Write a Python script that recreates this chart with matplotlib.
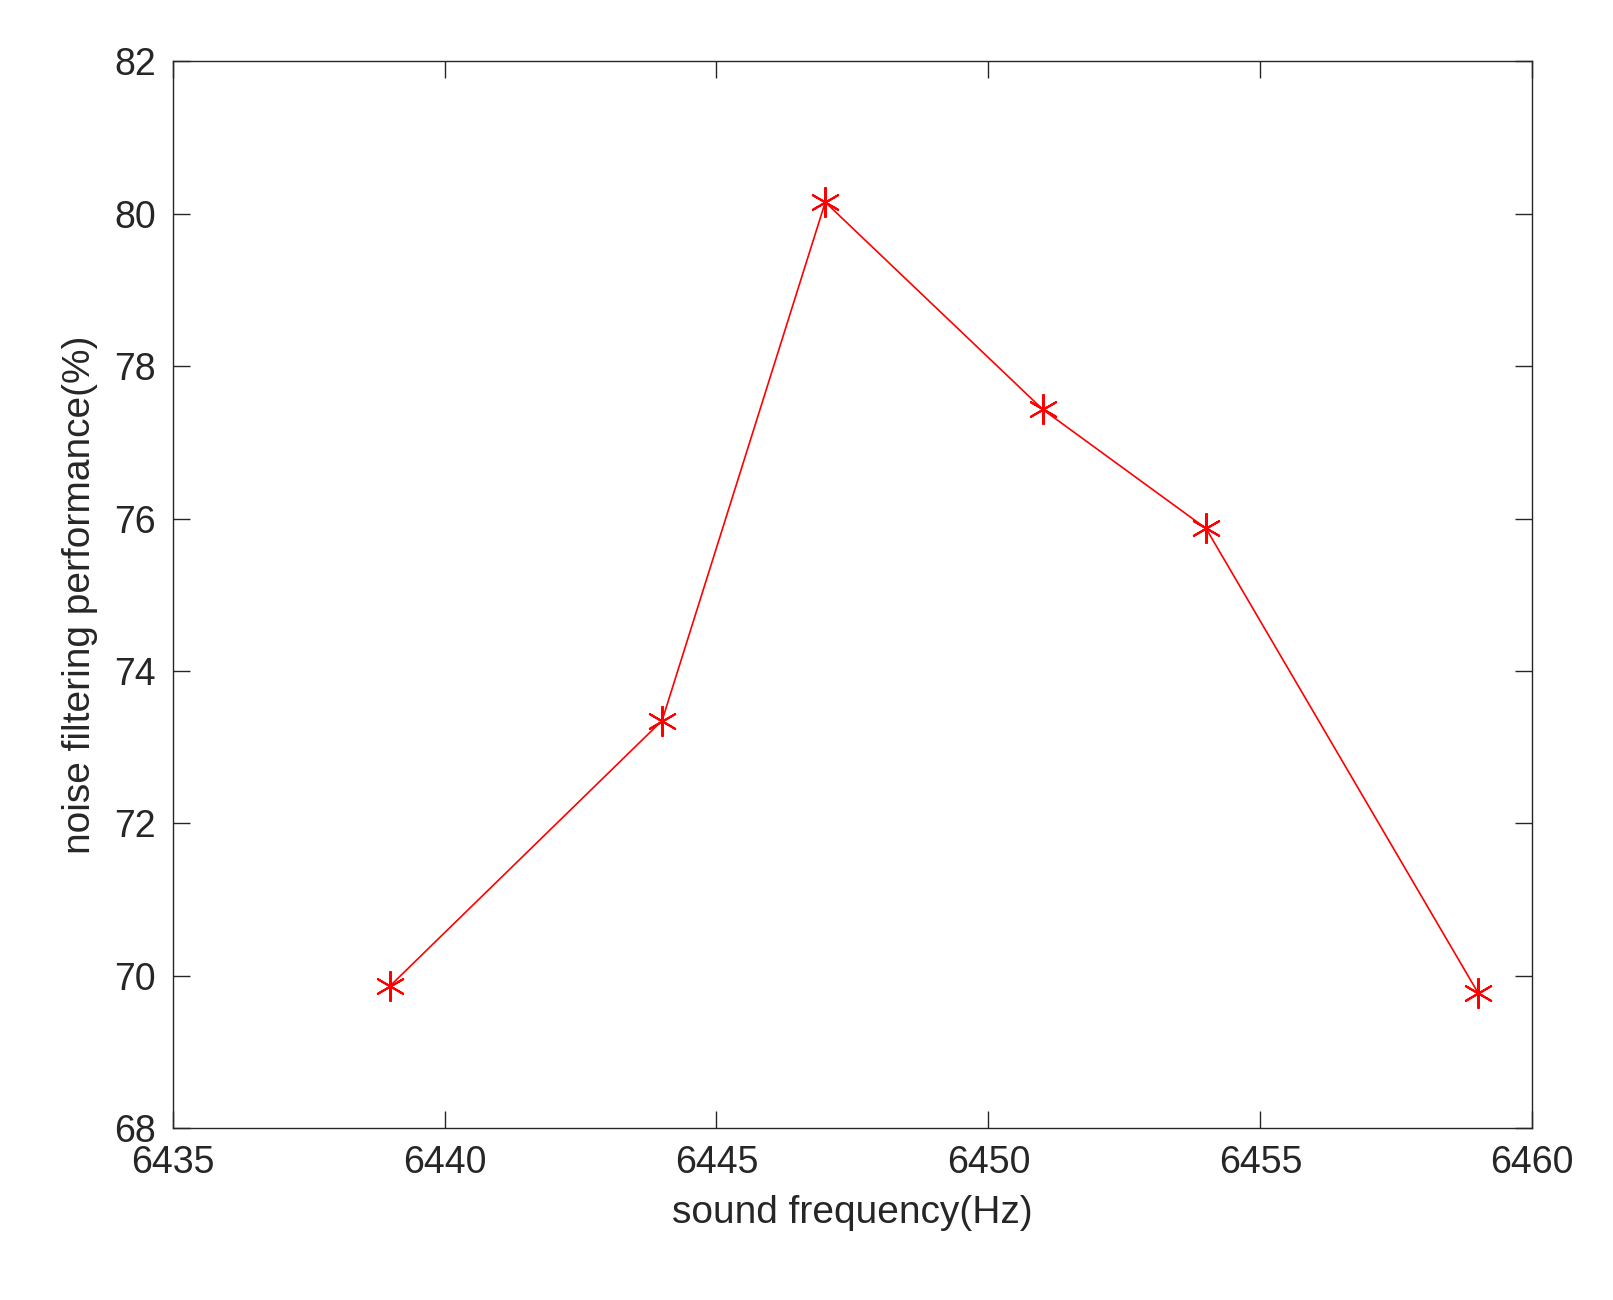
import matplotlib
matplotlib.use("Agg")
import matplotlib.pyplot as plt

freq = [6439, 6444, 6447, 6451, 6454, 6459]
perf = [69.87, 73.35, 80.15, 77.43, 75.87, 69.78]

plt.rcParams["font.family"] = ["Liberation Sans", "DejaVu Sans"]
fig = plt.figure(figsize=(16.13, 13), dpi=100)
ax = fig.add_axes([0.107, 0.132, 0.843, 0.821])
ax.plot(freq, perf, color="#ff0000", lw=1.2, marker=(6, 2, 0), ms=22,
        markeredgewidth=1.5)
ax.set_xlim(6435, 6460)
ax.set_ylim(68, 82)
ax.set_xticks(range(6435, 6461, 5))
ax.set_yticks(range(68, 83, 2))
ax.tick_params(direction="in", top=True, right=True, length=12, width=1,
               labelsize=27, colors="#262626", pad=12)
for s in ax.spines.values():
    s.set_color("#262626")
    s.set_linewidth(1)
ax.set_xlabel("sound frequency(Hz)", fontsize=28, color="#262626", labelpad=10)
ax.set_ylabel("noise filtering performance(%)", fontsize=28, color="#262626", labelpad=12)
fig.savefig("out.png", dpi=100)
